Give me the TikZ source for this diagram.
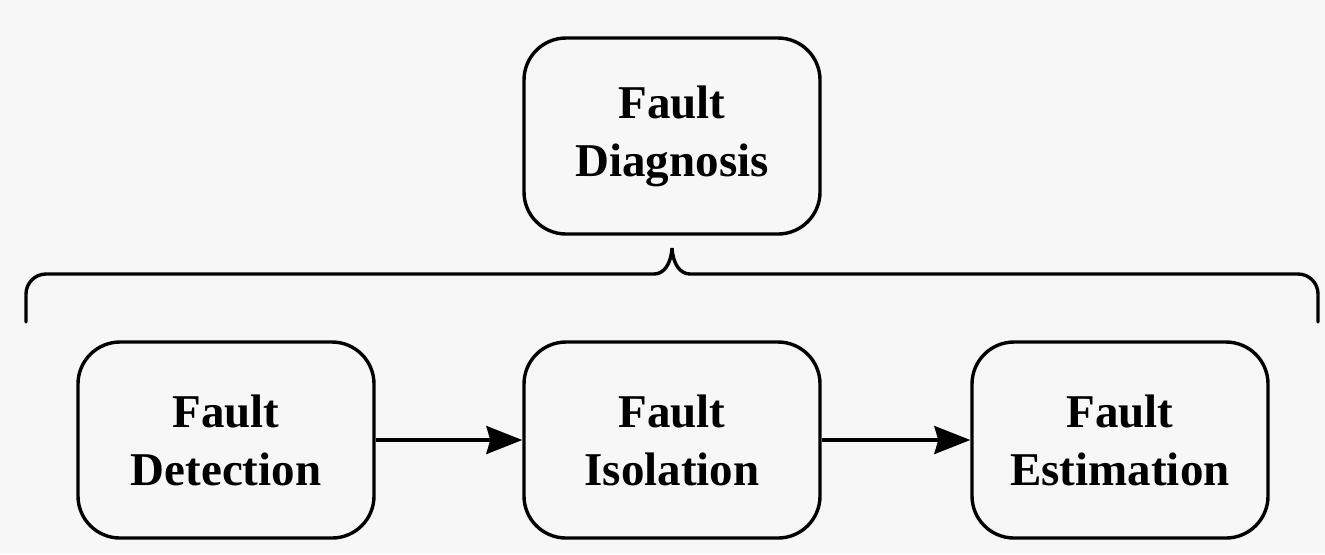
\documentclass[tikz,border=0pt]{standalone}
\usepackage{fontspec}
\setmainfont{Liberation Serif}
\usetikzlibrary{arrows.meta}
\definecolor{bgc}{HTML}{F7F7F7}
\begin{document}
\begin{tikzpicture}[x=0.5pt,y=-0.5pt,
  box/.style={draw=black, line width=1.7pt, rounded corners=21pt, fill=bgc,
    minimum width=148pt, minimum height=98pt, align=center,
    font=\fontsize{23.5}{29}\selectfont\bfseries},
  conn/.style={line width=1.7pt, -{Stealth[length=18pt,width=14pt,inset=2pt]}},
  brace/.style={line width=1.7pt, line cap=round}]
\fill[bgc] (0,0) rectangle (1325,554);
\useasboundingbox (0,0) rectangle (1325,554);
\node[box] (diag) at (672,136) {Fault\\Diagnosis};
\node[box] (det) at (226,440) {Fault\\Detection};
\node[box] (iso) at (672,440) {Fault\\Isolation};
\node[box] (est) at (1120,440) {Fault\\Estimation};
\draw[conn] (det) -- (iso);
\draw[conn] (iso) -- (est);
\coordinate (bl) at (26,322);
\coordinate (br) at (1318,322);
\coordinate (bt) at (672,248);
\draw[brace] (bl) -- (26,294) arc[start angle=180,end angle=270,radius=20] -- (654,274)
  .. controls (664,274) and (671,264) .. (bt)
  .. controls (673,264) and (680,274) .. (690,274) -- (1298,274)
  arc[start angle=270,end angle=360,radius=20] -- (br);
\end{tikzpicture}
\end{document}
